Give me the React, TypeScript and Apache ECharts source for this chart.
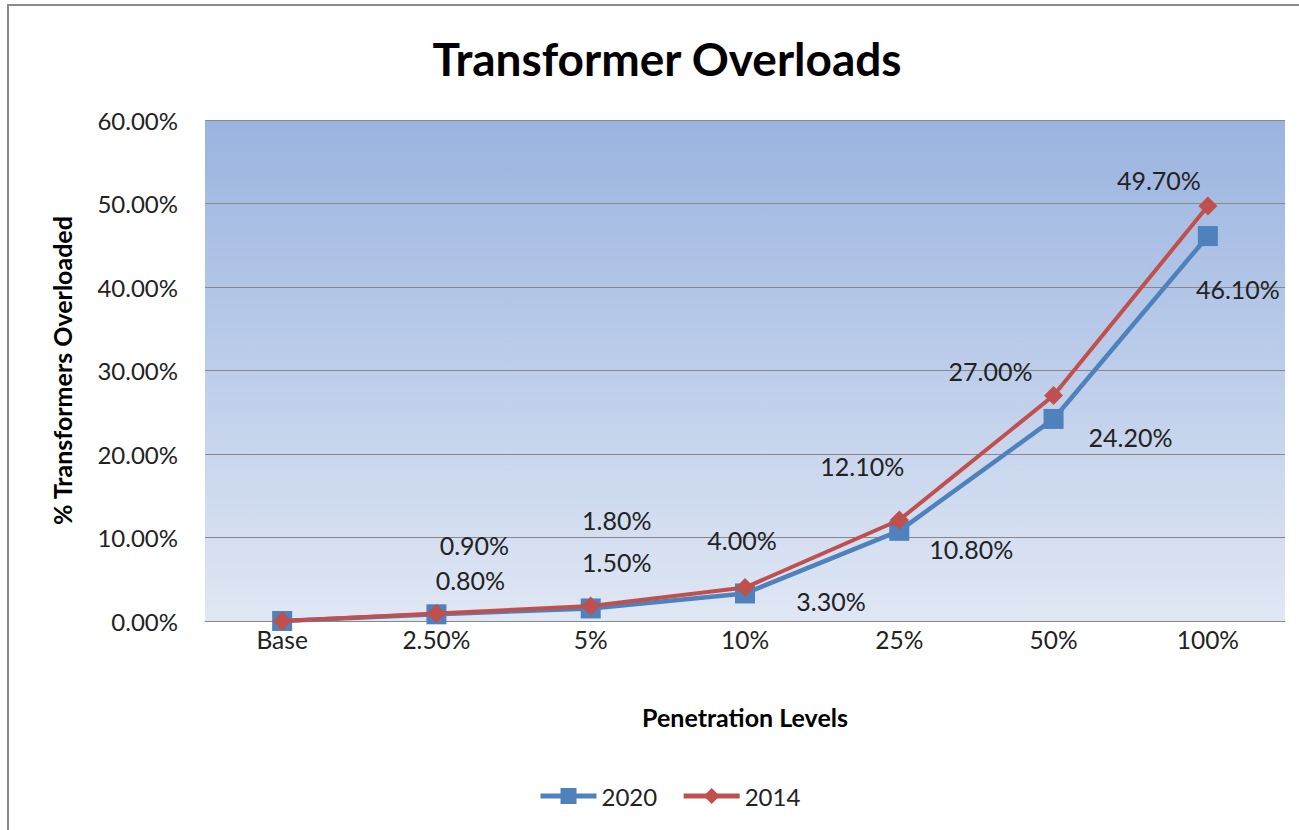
import React, { useEffect, useRef } from "react";
import * as echarts from "echarts";

const categories = ["Base", "2.50%", "5%", "10%", "25%", "50%", "100%"];
const values2020 = [0, 0.8, 1.5, 3.3, 10.8, 24.2, 46.1];
const values2014 = [0, 0.9, 1.8, 4.0, 12.1, 27.0, 49.7];
const seriesNames = ["2020", "2014"];
const yTicks = { min: 0, max: 60, interval: 10 };

// label offsets (style only), relative to each point
const offsets2020: [number, number][] = [[0, 0], [34, -34], [26, -46], [86, 8], [72, 18], [77, 18], [30, 53]];
const offsets2014: [number, number][] = [[0, 0], [38, -68], [26, -86], [-3, -48], [-37, -54], [-63, -25], [-49, -26]];

const FONT = "Lato";
const fmt = (v: number) => v.toFixed(2) + "%";

function buildData(values: number[], offs: [number, number][]) {
  return values.map((v, i) => ({
    value: v,
    label: {
      show: i > 0,
      position: "inside",
      offset: offs[i],
    },
  }));
}

export default function App() {
  const ref = useRef<HTMLDivElement>(null);
  useEffect(() => {
    document.body.style.margin = "0";
    const chart = echarts.init(ref.current!, undefined, { renderer: "svg" });
    chart.setOption({
      animation: false,
      backgroundColor: "#ffffff",
      textStyle: { fontFamily: FONT },
      title: {
        text: "Transformer Overloads",
        left: 662,
        textAlign: "center",
        top: 30,
        textStyle: { fontFamily: FONT, fontWeight: "bold", fontSize: 46, color: "#000" },
      },
      graphic: [
        {
          type: "rect",
          shape: { x: 8, y: 5, width: 1400, height: 900 },
          style: { fill: "none", stroke: "#8a8a8a", lineWidth: 2 },
          silent: true,
        },
      ],
      legend: {
        left: 533,
        top: 779,
        itemWidth: 56,
        itemHeight: 20,
        itemGap: 24,
        lineStyle: { width: 5 },
        textStyle: { fontFamily: FONT, fontSize: 24, color: "#222" },
        data: seriesNames,
      },
      grid: {
        left: 205,
        top: 120,
        right: 14,
        bottom: 209,
        show: true,
        borderWidth: 0,
        backgroundColor: {
          type: "linear",
          x: 0,
          y: 0,
          x2: 0,
          y2: 1,
          colorStops: [
            { offset: 0, color: "#9ab4e0" },
            { offset: 1, color: "#e0e7f4" },
          ],
        },
      },
      xAxis: {
        type: "category",
        data: categories,
        boundaryGap: true,
        name: "Penetration Levels",
        nameLocation: "middle",
        nameGap: 83,
        nameTextStyle: { fontFamily: FONT, fontWeight: "bold", fontSize: 25, color: "#000" },
        axisLine: { lineStyle: { color: "#888888", width: 1 } },
        axisTick: { show: false },
        axisLabel: { fontFamily: FONT, fontSize: 24.5, color: "#222", margin: 6 },
      },
      yAxis: {
        type: "value",
        min: yTicks.min,
        max: yTicks.max,
        interval: yTicks.interval,
        name: "% Transformers Overloaded",
        nameLocation: "middle",
        nameGap: 131,
        nameTextStyle: { fontFamily: FONT, fontWeight: "bold", fontSize: 25, color: "#000" },
        axisLine: { show: false },
        axisTick: { show: false },
        splitLine: { lineStyle: { color: "#888888", width: 1 } },
        axisLabel: {
          fontFamily: FONT,
          fontSize: 24,
          color: "#222",
          margin: 27,
          formatter: (v: number) => fmt(v),
        },
      },
      series: [
        {
          name: seriesNames[0],
          type: "line",
          data: buildData(values2020, offsets2020),
          symbol: "rect",
          symbolSize: 20,
          lineStyle: { color: "#4f81bd", width: 4.5 },
          itemStyle: { color: "#4f81bd" },
          label: {
            fontFamily: FONT,
            fontSize: 25,
            color: "#222",
            formatter: (p: any) => fmt(p.value),
          },
          emphasis: { disabled: true },
          z: 2,
        },
        {
          name: seriesNames[1],
          type: "line",
          data: buildData(values2014, offsets2014),
          symbol: "diamond",
          symbolSize: [19, 19],
          lineStyle: { color: "#c0504d", width: 4 },
          itemStyle: { color: "#c0504d" },
          label: {
            fontFamily: FONT,
            fontSize: 25,
            color: "#222",
            formatter: (p: any) => fmt(p.value),
          },
          emphasis: { disabled: true },
          z: 3,
        },
      ],
    });
    return () => chart.dispose();
  }, []);
  return (
    <div
      ref={ref}
      style={{ position: "absolute", left: 0, top: 0, width: 1299, height: 830 }}
    />
  );
}
